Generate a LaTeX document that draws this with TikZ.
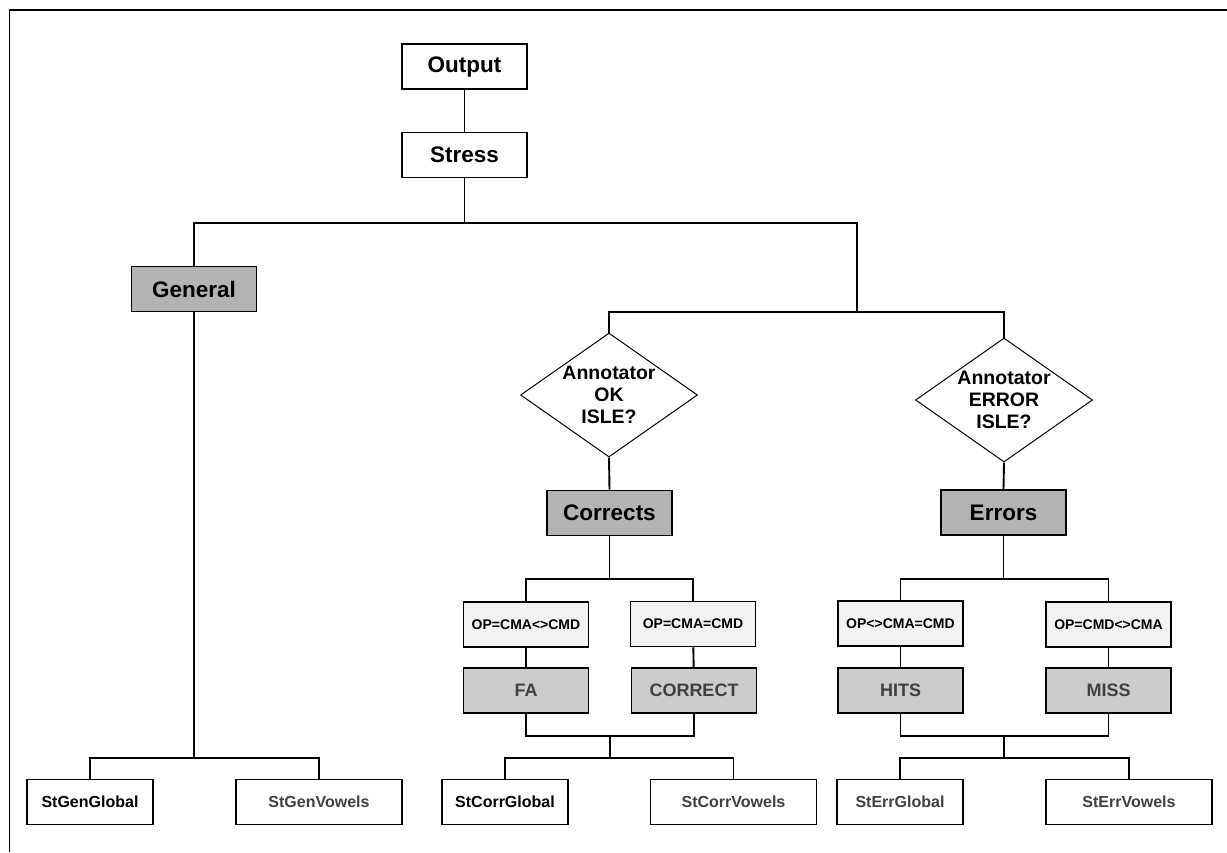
\documentclass[tikz,border=0pt]{standalone}
\usepackage{fontspec}
\setmainfont{Liberation Sans}
\usetikzlibrary{shapes.geometric,positioning}
\definecolor{groupgray}{RGB}{179,179,179}
\definecolor{testgray}{RGB}{242,242,242}
\definecolor{resultgray}{RGB}{204,204,204}
\definecolor{textgray}{RGB}{64,64,64}

\begin{document}
\begin{tikzpicture}[x=1pt, y=-1pt, line width=1.9pt,
  topbox/.style={rectangle, draw, fill=white, minimum width=125pt, minimum height=45pt, inner sep=0pt, font=\fontsize{22.5}{26}\selectfont\bfseries},
  groupbox/.style={topbox, fill=groupgray},
  question/.style={diamond, draw, line width=1pt, fill=white, minimum width=177pt, minimum height=124pt, inner sep=0pt},
  qtext/.style={align=center, inner sep=0pt, font=\fontsize{19.5}{22}\selectfont\bfseries},
  testbox/.style={rectangle, draw, fill=testgray, minimum width=125pt, minimum height=45pt, inner sep=0pt, font=\fontsize{14}{16}\selectfont\bfseries},
  resultbox/.style={testbox, fill=resultgray, text=textgray, font=\fontsize{18}{21}\selectfont\bfseries},
  leafbox/.style={rectangle, draw, fill=white, minimum width=126pt, minimum height=45pt, inner sep=0pt, font=\fontsize{16}{19}\selectfont\bfseries},
  wideleaf/.style={leafbox, minimum width=166pt, text=textgray}]

\useasboundingbox (0,0) rectangle (1227,852);
\draw (9.5,852) -- (9.5,10) -- (1227,10);

% top of the tree
\node[topbox] (output) at (464.5,66.5) {Output};
\node[topbox] (stress) at (464.5,155) {Stress};
\node[groupbox] (general) at (194,289) {General};

\node[question] (okq) at (609,395) {};
\node[qtext] (okqtext) at (okq) {Annotator\\OK\\ISLE?};
\node[question] (errq) at (1004,400) {};
\node[qtext] (errqtext) at (errq) {Annotator\\ERROR\\ISLE?};

\node[groupbox] (corrects) at (609.5,513) {Corrects};
\node[groupbox] (errors) at (1003.5,512.5) {Errors};

% tests and results
\node[testbox] (opfa) at (526,624.5) {OP=CMA<>CMD};
\node[testbox] (opcor) at (693,624) {OP=CMA=CMD};
\node[testbox] (ophit) at (900.5,623.5) {OP<>CMA=CMD};
\node[testbox] (opmiss) at (1108.5,624.5) {OP=CMD<>CMA};
\node[resultbox] (fa) at (526,690.5) {FA};
\node[resultbox] (correct) at (694,690.5) {CORRECT};
\node[resultbox] (hits) at (900.5,690.5) {HITS};
\node[resultbox] (miss) at (1108.5,690.5) {MISS};

% leaves
\node[leafbox] (stgenglobal) at (90,802) {StGenGlobal};
\node[wideleaf] (stgenvowels) at (319,802) {StGenVowels};
\node[leafbox] (stcorrglobal) at (505,802) {StCorrGlobal};
\node[wideleaf] (stcorrvowels) at (733.5,802) {StCorrVowels};
\node[leafbox, text=textgray] (sterrglobal) at (900,802) {StErrGlobal};
\node[wideleaf] (sterrvowels) at (1129,802) {StErrVowels};

\coordinate (topbus) at (464.5,223);
\coordinate (rsplit) at (857,312);
\coordinate (corrbus) at (609.5,579);
\coordinate (errbus) at (1003.5,579);
\coordinate (corrjoin) at (610,736);
\coordinate (errjoin) at (1004,736);
\coordinate (genlow) at (194,758);
\coordinate (corrlow) at (610,758);
\coordinate (errlow) at (1004,758);

\draw (output) -- (stress);
\draw (stress) -- (topbus);
\draw (general.north) |- (topbus) -| (rsplit);
\draw (okq.north) |- (rsplit) -| (errq.north);
\draw (okq.south) -- (corrects.north);
\draw (errq.south) -- (errors.north);

\draw (corrects.south) -- (corrbus);
\draw (opfa.north) |- (corrbus) -| (opcor.north);
\draw (errors.south) -- (errbus);
\draw (ophit.north) |- (errbus) -| (opmiss.north);
\draw (opfa) -- (fa);
\draw (opcor) -- (correct);
\draw (ophit) -- (hits);
\draw (opmiss) -- (miss);
\draw (fa.south) |- (corrjoin) -| (correct.south);
\draw (hits.south) |- (errjoin) -| (miss.south);

\draw (general.south) -- (genlow);
\draw (corrjoin) -- (corrlow);
\draw (errjoin) -- (errlow);
\draw (stgenglobal.north) |- (genlow) -| (stgenvowels.north);
\draw (stcorrglobal.north) |- (corrlow) -| (stcorrvowels.north);
\draw (sterrglobal.north) |- (errlow) -| (sterrvowels.north);

\end{tikzpicture}
\end{document}
